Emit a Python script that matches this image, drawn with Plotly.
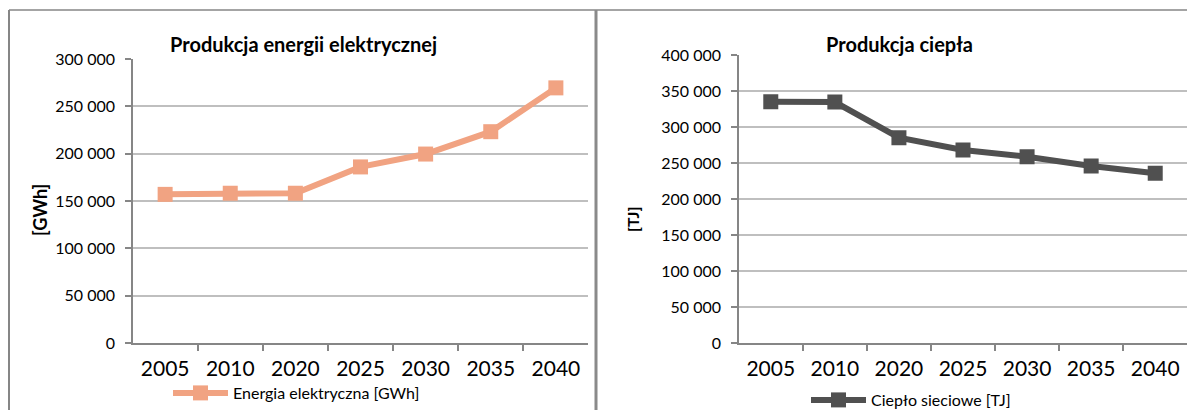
import plotly.graph_objects as go

W, H = 1187, 410

years = ["2005", "2010", "2020", "2025", "2030", "2035", "2040"]
energia = [157000, 158200, 158200, 186000, 199600, 223200, 269500]
cieplo = [335600, 335000, 285600, 268500, 259200, 246200, 236100]

name_left = "Energia elektryczna [GWh]"
name_right = "Ciepło sieciowe [TJ]"
title_left = "Produkcja energii elektrycznej"
title_right = "Produkcja ciepła"
ytitle_left = "[GWh]"
ytitle_right = "[TJ]"

FONT = "Lato"
AX = "#868686"
GRID = "#BFBFBF"
C_LEFT = "#F1A382"
C_RIGHT = "#505050"


def px(x):
    return x / W


def py(y):
    return 1 - y / H


fig = go.Figure()
fig.add_trace(go.Scatter(
    x=years, y=energia, name=name_left, mode="lines+markers",
    line=dict(color=C_LEFT, width=6),
    marker=dict(symbol="square", size=15, color=C_LEFT),
    xaxis="x", yaxis="y", legend="legend",
))
fig.add_trace(go.Scatter(
    x=years, y=cieplo, name=name_right, mode="lines+markers",
    line=dict(color=C_RIGHT, width=6),
    marker=dict(symbol="square", size=15, color=C_RIGHT),
    xaxis="x2", yaxis="y2", legend="legend2",
))

xcommon = dict(
    type="category", tickson="boundaries", ticks="outside", ticklen=6,
    tickcolor=AX, tickwidth=1.5, showline=True, linecolor=AX, linewidth=1.5,
    showgrid=False, tickfont=dict(family=FONT, size=21, color="#000"),
    ticklabelstandoff=6, fixedrange=True, automargin=False,
)
ycommon = dict(
    ticks="outside", ticklen=6, tickcolor=AX, tickwidth=1.5,
    showline=True, linecolor=AX, linewidth=1.5,
    showgrid=True, gridcolor=GRID, gridwidth=1.5, zeroline=False,
    tickformat=",d", dtick=50000, tickfont=dict(family=FONT, size=16, color="#000"),
    ticklabelstandoff=7, fixedrange=True, automargin=False,
)

fig.update_layout(
    width=W, height=H, margin=dict(l=0, r=0, t=0, b=0, autoexpand=False),
    paper_bgcolor="white", plot_bgcolor="white",
    separators=", ",
    xaxis=dict(domain=[px(133), px(588)], anchor="y", **xcommon),
    yaxis=dict(domain=[py(343), py(59)], anchor="x", range=[0, 300000], **ycommon),
    xaxis2=dict(domain=[px(739), 1.0], anchor="y2", **xcommon),
    yaxis2=dict(domain=[py(343.3), py(55.3)], anchor="x2", range=[0, 400000], **ycommon),
    legend=dict(x=px(168), y=py(393), xanchor="left", yanchor="middle",
                bgcolor="rgba(0,0,0,0)", itemwidth=55,
                font=dict(family=FONT, size=16, color="#000")),
    legend2=dict(x=px(806), y=py(400), xanchor="left", yanchor="middle",
                 bgcolor="rgba(0,0,0,0)", itemwidth=55,
                 font=dict(family=FONT, size=16, color="#000")),
    showlegend=True,
)

annots = [
    dict(text=f"<b>{title_left}</b>", x=px(304), y=py(44), size=20, angle=0),
    dict(text=f"<b>{title_right}</b>", x=px(899), y=py(44), size=20, angle=0),
    dict(text=f"<b>{ytitle_left}</b>", x=px(40), y=py(210), size=18, angle=-90),
    dict(text=f"<b>{ytitle_right}</b>", x=px(632), y=py(220), size=16, angle=-90),
]
for a in annots:
    fig.add_annotation(
        text=a["text"], x=a["x"], y=a["y"], xref="paper", yref="paper",
        xanchor="center", yanchor="middle", showarrow=False, textangle=a["angle"],
        font=dict(family=FONT, size=a["size"], color="#000"),
    )

# chart frames
fig.add_shape(type="line", xref="paper", yref="paper", x0=px(9), x1=px(9), y0=py(10), y1=0,
              line=dict(color=AX, width=2))
fig.add_shape(type="line", xref="paper", yref="paper", x0=px(9), x1=1, y0=py(10), y1=py(10),
              line=dict(color=AX, width=1.5))
fig.add_shape(type="line", xref="paper", yref="paper", x0=px(596), x1=px(596), y0=py(10), y1=0,
              line=dict(color="#8A8A8A", width=3))

fig.write_html("out.html")
